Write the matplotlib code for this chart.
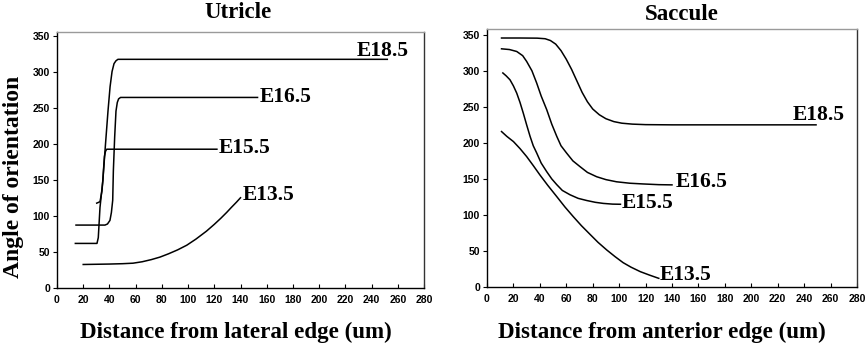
import matplotlib
matplotlib.use("Agg")
import matplotlib.pyplot as plt

# ---------------- data ----------------
xticks = list(range(0, 281, 20))
yticks = list(range(0, 351, 50))

utricle_e185_x = [14, 30.5, 31.5, 32.8, 35, 37, 38.9, 40.5, 42, 43.5, 45, 46.5, 50, 100, 252]
utricle_e185_y = [62, 62, 70, 112, 150, 200, 246, 280, 301, 312, 316, 318, 318, 318, 318]

utricle_e165_x = [14.5, 36.6, 38.5, 40.4, 41.5, 42.5, 43, 44, 45, 46, 47, 48.5, 52, 100, 153]
utricle_e165_y = [87.5, 87.5, 89, 94, 105, 122, 163, 210, 246, 258, 263, 265, 265, 265, 265]

utricle_e155_x = [30.3, 32.8, 34.3, 35, 35.5, 36.2, 37, 37.9, 40, 80, 122]
utricle_e155_y = [118, 120, 135, 150, 165, 183, 190, 193, 193, 193, 193]

utricle_e135_x = [20, 30, 40, 50, 58, 65, 72, 78.6, 85, 92, 99, 106, 114, 120, 125, 129.4, 133, 137, 140]
utricle_e135_y = [32.7, 33, 33.3, 33.8, 34.5, 36.5, 39.5, 43, 47.5, 53, 59.5, 68, 79, 88.5, 97, 105, 112, 119.5, 125.5]

saccule_e185_x = [11, 25, 38, 44, 48, 52, 56, 60, 64, 68, 72, 76, 80, 85, 90, 96, 102, 110, 120, 140, 249]
saccule_e185_y = [345.5, 345.5, 345.3, 344.5, 342, 337, 328, 316, 302, 286, 270, 257, 247, 239, 233.5, 229.5, 227.3, 226, 225.3, 225, 225]

saccule_e165_x = [11, 17, 22.5, 27, 30, 34, 37.6, 41, 45.2, 49, 52.8, 56, 60.3, 65, 70.4, 76, 83, 90, 98, 108, 118, 130, 140]
saccule_e165_y = [330.5, 329.5, 326.8, 321, 313, 300, 283, 265, 246, 226, 209, 196, 185.7, 175, 167, 159, 153, 149, 146, 144, 143, 142, 141.7]

saccule_e155_x = [12, 14.5, 17.4, 20, 22.5, 25, 27.5, 30, 32.6, 35, 37.6, 41, 45.2, 49, 52.8, 57, 62.8, 69, 75.5, 82, 88, 95, 101]
saccule_e155_y = [297, 293, 287.5, 279, 269, 256, 241, 225, 209, 196, 186, 172, 160, 150, 142, 134, 128, 123, 120, 117.5, 116, 115, 114.8]

saccule_e135_x = [11, 15, 20, 25, 30, 35, 40, 46, 52.8, 59, 65.3, 71.5, 78, 84, 90.6, 97, 103, 109, 116, 123, 130]
saccule_e135_y = [215.7, 209, 201.8, 192, 181, 168.5, 155.6, 141, 125.4, 111, 97.6, 85, 73, 62, 51.4, 42, 33.8, 27.5, 21.3, 16.5, 12]

utricle_labels = ["E18.5", "E16.5", "E15.5", "E13.5"]
utricle_label_x = [229, 155, 123, 142]
utricle_label_y = [329, 265.5, 195, 130]

saccule_labels = ["E18.5", "E16.5", "E15.5", "E13.5"]
saccule_label_x = [231.5, 142.5, 102, 131]
saccule_label_y = [239, 146, 117, 17]

# ---------------- figure ----------------
W, H = 865, 348
fig = plt.figure(figsize=(W / 100, H / 100), dpi=100)

serif = "Liberation Serif"
sans = "Liberation Sans"


def fx(px):
    return px / W


def fy(py):
    return 1 - py / H


def make_ax(left, right, top, bottom, ytop):
    ax = fig.add_axes([fx(left), fy(bottom), fx(right) - fx(left), fy(top) - fy(bottom)])
    ax.set_xlim(0, 280)
    ax.set_ylim(0, ytop)
    ax.set_xticks(xticks)
    ax.set_yticks(yticks)
    ax.tick_params(axis="x", direction="in", length=3, width=0.8, pad=5, labelsize=7.5)
    ax.tick_params(axis="y", direction="out", length=3, width=0.8, pad=2, labelsize=7.5)
    for lab in ax.get_xticklabels() + ax.get_yticklabels():
        lab.set_fontfamily(sans)
        lab.set_fontweight("bold")
    ax.spines["left"].set_color("black")
    ax.spines["bottom"].set_color("black")
    ax.spines["top"].set_color("#9a9a9a")
    ax.spines["right"].set_color("#333333")
    for s in ax.spines.values():
        s.set_linewidth(1.0)
    return ax


lw = 1.1
axL = make_ax(57, 424, 32, 288, 356)
axL.plot(utricle_e185_x, utricle_e185_y, color="black", lw=lw)
axL.plot(utricle_e165_x, utricle_e165_y, color="black", lw=lw)
axL.plot(utricle_e155_x, utricle_e155_y, color="black", lw=lw)
axL.plot(utricle_e135_x, utricle_e135_y, color="black", lw=lw)
for t, x, y in zip(utricle_labels, utricle_label_x, utricle_label_y):
    axL.text(x, y, t, fontfamily=serif, fontweight="bold", fontsize=15.5, ha="left", va="center")

axR = make_ax(487, 857, 29, 287, 358)
axR.plot(saccule_e185_x, saccule_e185_y, color="black", lw=lw)
axR.plot(saccule_e165_x, saccule_e165_y, color="black", lw=lw)
axR.plot(saccule_e155_x, saccule_e155_y, color="black", lw=lw)
axR.plot(saccule_e135_x, saccule_e135_y, color="black", lw=lw)
for t, x, y in zip(saccule_labels, saccule_label_x, saccule_label_y):
    axR.text(x, y, t, fontfamily=serif, fontweight="bold", fontsize=15.5, ha="left", va="center")

fig.text(fx(238), fy(13), "Utricle", fontfamily=serif, fontweight="bold", fontsize=16.5, ha="center", va="center")
fig.text(fx(682), fy(14), "Saccule", fontfamily=serif, fontweight="bold", fontsize=16.5, ha="center", va="center")
fig.text(fx(236), fy(332), "Distance from lateral edge (um)", fontfamily=serif, fontweight="bold",
         fontsize=16.6, ha="center", va="center")
fig.text(fx(662), fy(332), "Distance from anterior edge (um)", fontfamily=serif, fontweight="bold",
         fontsize=16.6, ha="center", va="center")
fig.text(fx(14), fy(177), "Angle of orientation", fontfamily=serif, fontweight="bold",
         fontsize=17, ha="center", va="center", rotation=90)

fig.savefig("out.png", dpi=100)
